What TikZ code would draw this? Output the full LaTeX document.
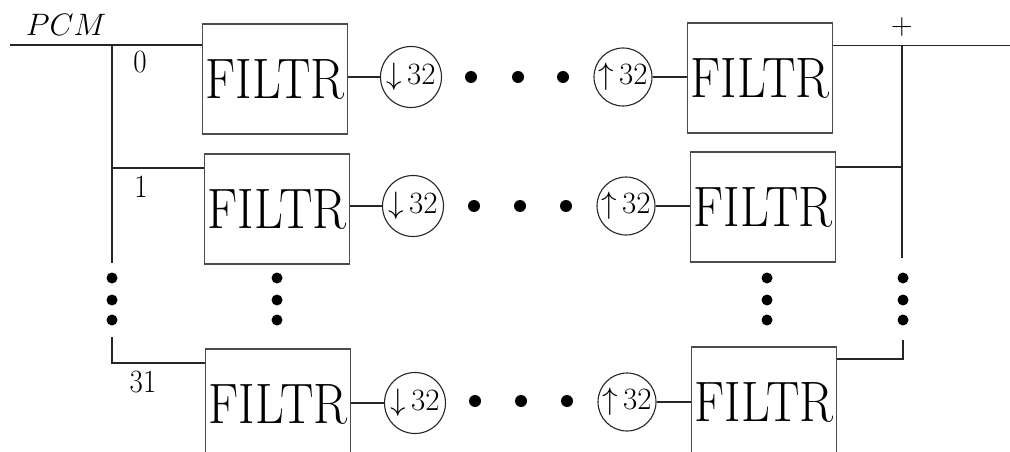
\RequirePackage{fix-cm}
\documentclass[tikz,border=0pt]{standalone}
\usepackage{graphicx}
\begin{document}
\begin{tikzpicture}[x=1pt,y=-1pt,
  wire/.style={draw=black!85, line width=1.1pt},
  filt/.style={draw=black!70, line width=1.1pt, rectangle, minimum width=145pt, minimum height=110pt, inner sep=0pt,
    font=\fontsize{50}{50}\selectfont},
  rate/.style={draw=black!85, line width=1.1pt, circle, minimum size=61pt, inner sep=0pt,
    font=\fontsize{31}{31}\selectfont},
  bigdot/.style={circle, fill=black, inner sep=0pt, minimum size=12pt},
  vdot/.style={circle, fill=black, inner sep=0pt, minimum size=11pt},
  lab/.style={font=\fontsize{29}{29}\selectfont, inner sep=0pt}
]
\useasboundingbox (0,0) rectangle (1010,452);
\clip (0,0) rectangle (1010,452);

% ---- row 1
\node[filt] (L1) at (275,79) {\scalebox{1}[1.14]{FILTR}};
\node[rate] (D1) at (411,77) {$\downarrow$\,32};
\node[bigdot] (a1) at (471,77) {};
\node[bigdot] (b1) at (518,77) {};
\node[bigdot] (c1) at (563,77) {};
\node[rate,minimum size=58pt] (U1) at (623,77) {$\uparrow$\,32};
\node[filt] (R1) at (760,78) {\scalebox{1}[1.14]{FILTR}};

% ---- row 2
\node[filt] (L2) at (277,209) {\scalebox{1}[1.14]{FILTR}};
\node[rate] (D2) at (413,206) {$\downarrow$\,32};
\node[bigdot] (a2) at (474,206) {};
\node[bigdot] (b2) at (520,206) {};
\node[bigdot] (c2) at (566,206) {};
\node[rate,minimum size=58pt] (U2) at (626,206) {$\uparrow$\,32};
\node[filt] (R2) at (763,207) {\scalebox{1}[1.14]{FILTR}};

% ---- row 3
\node[filt] (L3) at (278,404) {\scalebox{1}[1.14]{FILTR}};
\node[rate] (D3) at (415,403) {$\downarrow$\,32};
\node[bigdot] (a3) at (475,401) {};
\node[bigdot] (b3) at (521,401) {};
\node[bigdot] (c3) at (567,401) {};
\node[rate,minimum size=58pt] (U3) at (627,402) {$\uparrow$\,32};
\node[filt] (R3) at (764,402) {\scalebox{1}[1.14]{FILTR}};

% row connectors
\draw[wire] (L1.east |- D1) -- (D1.west);
\draw[wire] (U1.east) -- (R1.west |- U1);
\draw[wire] (L2.east |- D2) -- (D2.west);
\draw[wire] (U2.east) -- (R2.west |- U2);
\draw[wire] (L3.east |- D3) -- (D3.west);
\draw[wire] (U3.east) -- (R3.west |- U3);

% ---- input distribution
\coordinate (in) at (10,45);
\coordinate (J0) at (112,45);
\coordinate (J1) at (112,168);
\coordinate (Jend) at (112,263);
\coordinate (J31s) at (112,337);
\coordinate (J31) at (112,363);
\draw[wire] (in) -- (J0) -- (L1.west |- J0);
\draw[wire] (J0) -- (J1) -- (Jend);
\draw[wire] (J1) -- (L2.west |- J1);
\draw[wire] (J31s) -- (J31) -- (L3.west |- J31);

% ---- output summation
\coordinate (S0) at (902,45.5);
\coordinate (out) at (1010,45.5);
\coordinate (S1) at (902,167);
\coordinate (Send) at (902,258);
\coordinate (S31s) at (903,340);
\coordinate (S31) at (903,359);
\draw[wire] (R1.east |- S0) -- (S0) -- (out);
\draw[wire] (S0) -- (S1) -- (Send);
\draw[wire] (R2.east |- S1) -- (S1);
\draw[wire] (R3.east |- S31) -- (S31) -- (S31s);

% vertical ellipses
\node[vdot] (v1a) at (112,278) {};
\node[vdot] (v1b) at (112,300) {};
\node[vdot] (v1c) at (112,320) {};
\node[vdot] (v2a) at (277,278) {};
\node[vdot] (v2b) at (277,300) {};
\node[vdot] (v2c) at (277,320) {};
\node[vdot] (v3a) at (767,278) {};
\node[vdot] (v3b) at (767,300) {};
\node[vdot] (v3c) at (767,320) {};
\node[vdot] (v4a) at (903,278) {};
\node[vdot] (v4b) at (903,300) {};
\node[vdot] (v4c) at (903,320) {};

% labels
\node[font=\fontsize{31}{31}\selectfont, inner sep=0pt] (pcm) at (66,25) {$PCM$};
\node[font=\fontsize{30}{30}\selectfont, inner sep=0pt] (plus) at (902,27) {+};
\node[lab] (l0) at (140,62) {\scalebox{1}[1.12]{0}};
\node[lab] (l1) at (141,187) {\scalebox{1}[1.12]{1}};
\node[lab] (l31) at (143,382) {\scalebox{1}[1.12]{31}};
\end{tikzpicture}
\end{document}
